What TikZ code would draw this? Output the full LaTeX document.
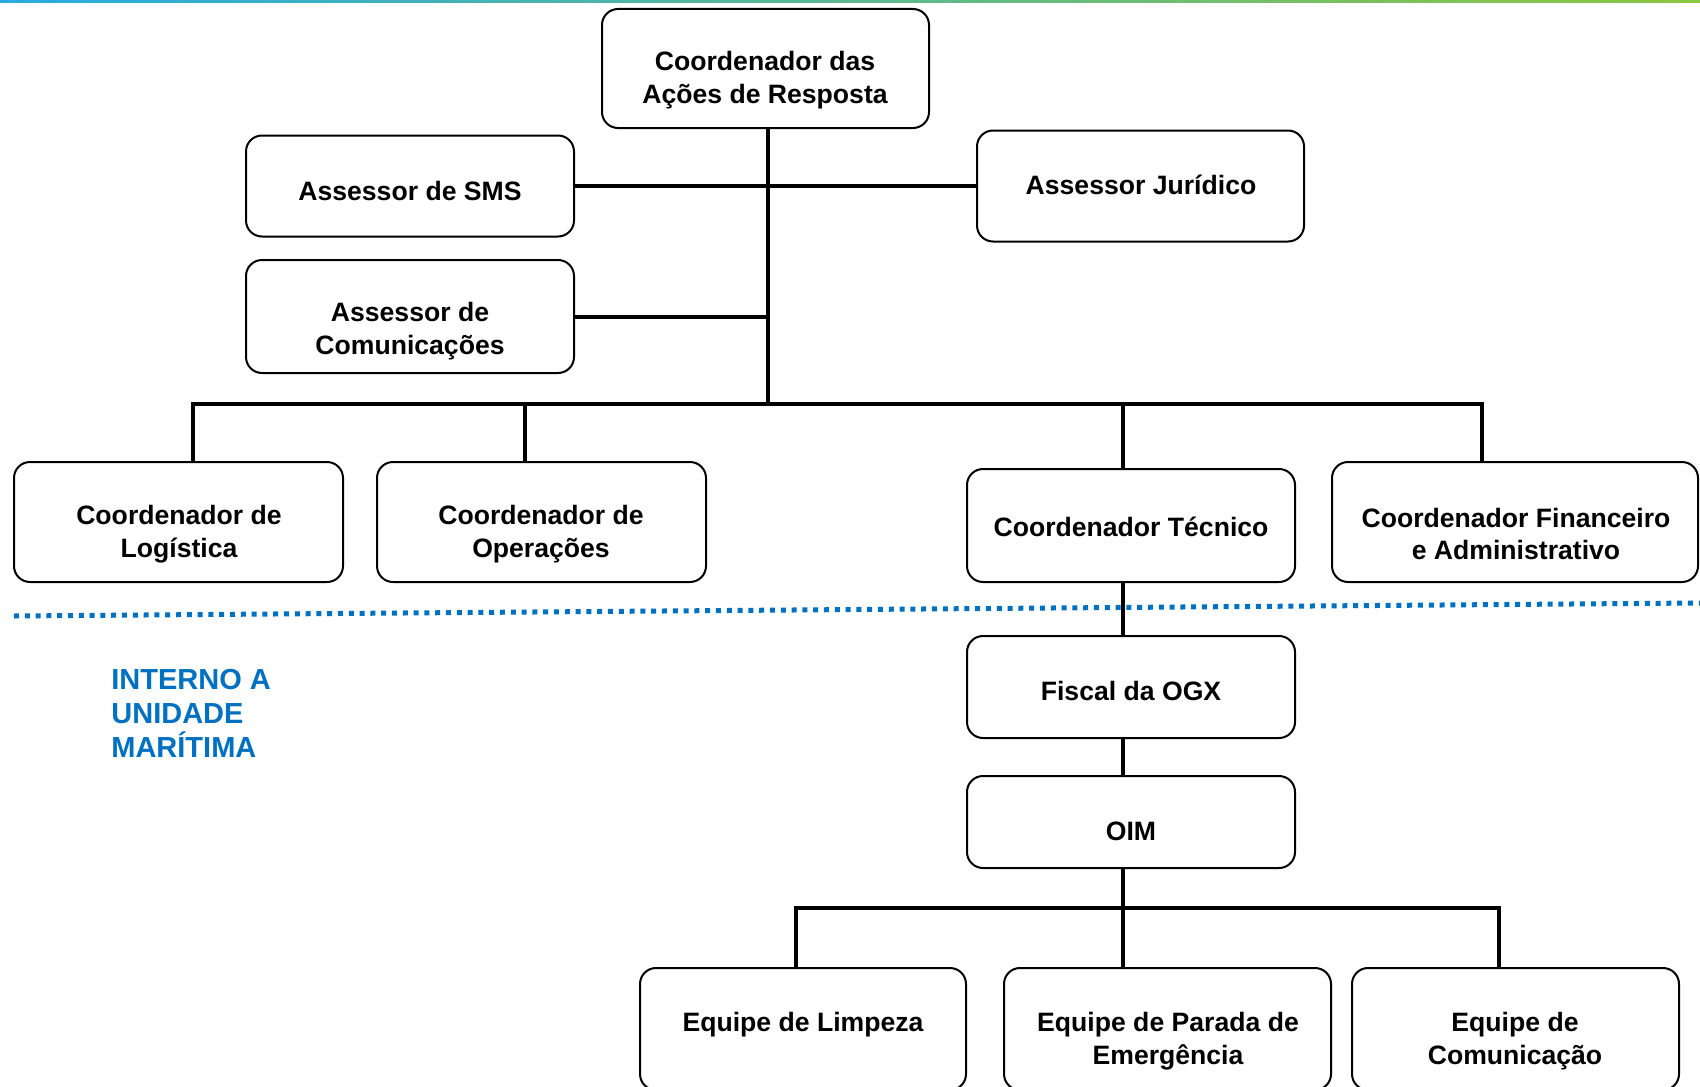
\documentclass[tikz,border=0pt]{standalone}
\usepackage{fontspec}
\setmainfont{Liberation Sans}
\definecolor{bandleft}{HTML}{29ABE2}
\definecolor{bandright}{HTML}{8DC63F}
\definecolor{unitblue}{HTML}{0070C0}
\begin{document}
\begin{tikzpicture}[x=0.5pt,y=-0.5pt,
  orgbox/.style={draw=black, line width=1pt, rounded corners=8pt, fill=white, inner sep=0pt},
  orgtext/.style={font=\fontsize{13.3pt}{16.3pt}\selectfont\bfseries, align=center, inner sep=0pt},
  link/.style={line width=2pt, line join=miter},
  dotline/.style={draw=unitblue, line width=2.5pt, dash pattern=on 2.5pt off 2.9pt},
  unittext/.style={font=\fontsize{14.5pt}{17pt}\selectfont\bfseries, text=unitblue, align=left, inner sep=0pt},
]
\useasboundingbox (0,0) rectangle (1700,1086);
\clip (0,0) rectangle (1700,1086);

% coloured band along the top edge
\shade[left color=bandleft, right color=bandright] (0,0) rectangle (1700,3);

% boxes
\node[orgbox, minimum width=163.5pt, minimum height=59.5pt] (top) at (765.5,68.5) {};
\node[orgbox, minimum width=164pt,   minimum height=50.5pt] (sms) at (410,186) {};
\node[orgbox, minimum width=163.5pt, minimum height=55.5pt] (jur) at (1140.5,186) {};
\node[orgbox, minimum width=164pt,   minimum height=56.5pt] (com) at (410,316.5) {};
\node[orgbox, minimum width=164.5pt, minimum height=60pt]   (log) at (178.5,522) {};
\node[orgbox, minimum width=164.5pt, minimum height=60pt]   (ops) at (541.5,522) {};
\node[orgbox, minimum width=164pt,   minimum height=56.5pt] (tec) at (1131,525.5) {};
\node[orgbox, minimum width=183pt,   minimum height=60pt]   (fin) at (1515,522) {};
\node[orgbox, minimum width=164pt,   minimum height=51pt]   (fis) at (1131,687) {};
\node[orgbox, minimum width=164pt,   minimum height=46pt]   (oim) at (1131,822) {};
\node[orgbox, minimum width=163pt,   minimum height=61pt]   (lim) at (803,1029) {};
\node[orgbox, minimum width=163.5pt, minimum height=61pt]   (par) at (1167.5,1029) {};
\node[orgbox, minimum width=163.5pt, minimum height=61pt]   (cmc) at (1515.5,1029) {};

% box labels
\node[orgtext] (ttop) at (765,80)   {Coordenador das\\Ações de Resposta};
\node[orgtext] (tsms) at (410,191)  {Assessor de SMS};
\node[orgtext] (tjur) at (1141,185) {Assessor Jurídico};
\node[orgtext] (tcom) at (410,331)  {Assessor de\\Comunicações};
\node[orgtext] (tlog) at (179,534)  {Coordenador de\\Logística};
\node[orgtext] (tops) at (541,534)  {Coordenador de\\Operações};
\node[orgtext] (ttec) at (1131,527) {Coordenador Técnico};
\node[orgtext] (tfin) at (1516,534) {Coordenador Financeiro\\e Administrativo};
\node[orgtext] (tfis) at (1131,691) {Fiscal da OGX};
\node[orgtext] (toim) at (1131,831) {OIM};
\node[orgtext] (tlim) at (803,1025) {Equipe de Limpeza};
\node[orgtext] (tpar) at (1168,1041) {Equipe de Parada de\\Emergência};
\node[orgtext] (tcmc) at (1515,1041) {Equipe de\\Comunicação};

% junction points of the connectors
\coordinate (hub)   at (768,404);
\coordinate (busL)  at (193,404);
\coordinate (dropO) at (525,404);
\coordinate (dropT) at (1123,404);
\coordinate (busR)  at (1482,404);
\coordinate (hub2)  at (1123,908);
\coordinate (bus2L) at (796,908);
\coordinate (bus2R) at (1499,908);

% upper tree
\draw[link] (top.south -| hub) -- (hub);
\draw[link] (sms.east) -- (jur.west);
\draw[link] (com.east) -- (com.east -| hub);
\draw[link] (log.north -| busL) -- (busL) -- (busR) -- (fin.north -| busR);
\draw[link] (dropO) -- (ops.north -| dropO);
\draw[link] (dropT) -- (tec.north -| dropT);

% offshore chain
\draw[link] (tec.south -| dropT) -- (fis.north -| dropT);
\draw[link] (fis.south -| dropT) -- (oim.north -| dropT);
\draw[link] (oim.south -| hub2) -- (hub2);
\draw[link] (lim.north -| bus2L) -- (bus2L) -- (bus2R) -- (cmc.north -| bus2R);
\draw[link] (hub2) -- (par.north -| hub2);

% boundary of the offshore unit
\coordinate (dotL) at (14,616);
\coordinate (dotR) at (1700,603);
\draw[dotline] (dotL) -- (dotR);
\node[unittext, anchor=north west] (unit) at (111,669) {INTERNO A\\UNIDADE\\MARÍTIMA};
\end{tikzpicture}
\end{document}
